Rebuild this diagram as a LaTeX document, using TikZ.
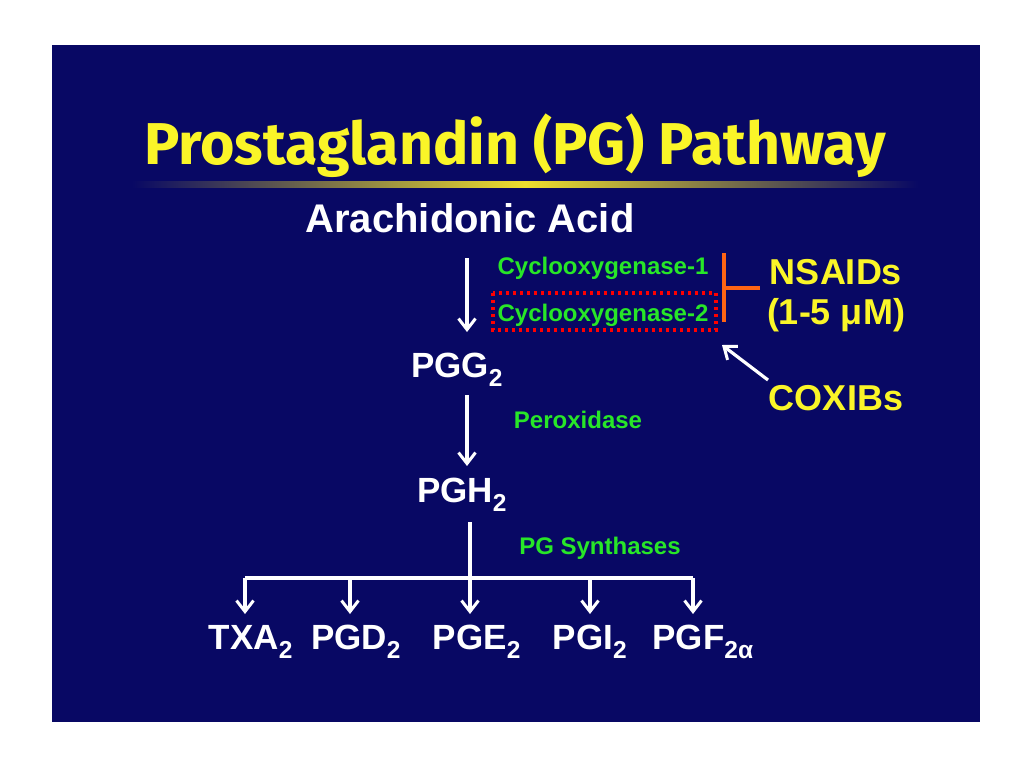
\documentclass[tikz,border=0pt]{standalone}
\usepackage{fontspec}
\setmainfont{Liberation Sans}
\newfontfamily\titlefont{Fira Sans}
\usetikzlibrary{arrows.meta}
\definecolor{bg}{RGB}{8,8,100}
\definecolor{ttl}{RGB}{250,245,40}
\definecolor{grn}{RGB}{40,230,40}
\definecolor{org}{RGB}{255,100,20}
\tikzset{
 wt/.style={text=white,font=\bfseries\fontsize{35}{40}\selectfont,inner sep=0},
 gr/.style={text=grn,font=\bfseries\fontsize{24}{28}\selectfont,inner sep=0},
 yl/.style={text=ttl,font=\bfseries\fontsize{36}{40}\selectfont,inner sep=0},
 ar/.style={white,line width=3.2pt,-{Straight Barb[length=11pt,width=17pt,line width=3pt]}},
 ln/.style={white,line width=3.2pt}
}
\begin{document}
\begin{tikzpicture}[x=1pt,y=-1pt]
\useasboundingbox (0,0) rectangle (1024,768);
\fill[white] (0,0) rectangle (1024,768);
\fill[bg] (52,45) rectangle (980,722);
\node[text=ttl,font=\titlefont\bfseries\fontsize{59}{64}\selectfont,inner sep=0] (title) at (515,146) {Prostaglandin (PG) Pathway};
\shade[left color=bg,right color=bg,middle color=ttl!80!brown] (132,181) rectangle (918,187);
\node[wt,font=\bfseries\fontsize{40}{44}\selectfont] (aa) at (470,218) {Arachidonic Acid};
\node[wt] (pgg) at (457,370) {PGG\textsubscript{2}};
\node[wt] (pgh) at (462,495) {PGH\textsubscript{2}};
\node[wt] (txa) at (251,642) {TXA\textsubscript{2}};
\node[wt] (pgd) at (356,642) {PGD\textsubscript{2}};
\node[wt] (pge) at (477,642) {PGE\textsubscript{2}};
\node[wt] (pgi) at (590,642) {PGI\textsubscript{2}};
\node[wt] (pgf) at (703,642) {PGF\textsubscript{2α}};
\node[gr] (c1) at (603,268) {Cyclooxygenase-1};
\node[gr] (c2) at (603,315) {Cyclooxygenase-2};
\node[gr] (px) at (578,420) {Peroxidase};
\node[gr] (ps) at (600,548) {PG Synthases};
\node[yl] (ns) at (836,272) {NSAIDs};
\node[yl] (um) at (836,315) {(1-5 μM)};
\node[yl] (cx) at (836,398) {COXIBs};
\draw[red,line width=4pt,dash pattern=on 3pt off 4pt] (493,293) rectangle (716,330);
\draw[org,line width=4pt] (724,253) -- (724,322) (724,288) -- (760,288);
\coordinate (ca) at (768,380); \coordinate (cb) at (722,345);
\draw[ar] (ca) -- (cb);
\draw[ar] (467,258) -- (467,332);
\draw[ar] (467,395) -- (467,466);
\coordinate (h) at (470,522);
\draw[ar] (h) -- (470,614);
\draw[ln] (245,578) -- (693,578);
\foreach \x in {245,350,590,693} \draw[ar] (\x,578) -- (\x,614);
\end{tikzpicture}
\end{document}
